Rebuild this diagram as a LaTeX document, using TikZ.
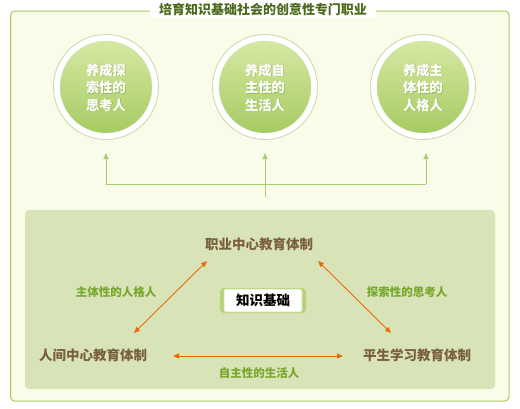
\documentclass[tikz,border=0pt]{standalone}
\usepackage{fontspec}
\setmainfont{Noto Sans CJK SC}
\usetikzlibrary{arrows.meta}
\definecolor{outerfill}{HTML}{F8FCE9}
\definecolor{outerline}{HTML}{A9CB62}
\definecolor{innerfill}{HTML}{D8E4B8}
\definecolor{titlecol}{HTML}{4B6A1E}
\definecolor{brown}{HTML}{7A5E3E}
\definecolor{lblgreen}{HTML}{78A82E}
\definecolor{orangec}{HTML}{EC6A0C}
\definecolor{ringline}{HTML}{C9D9A8}
\definecolor{gtop}{HTML}{D6E8A2}
\definecolor{gbot}{HTML}{A6CB62}
\definecolor{vline}{HTML}{A9CD74}
\definecolor{shadowc}{HTML}{7F9E4A}
\begin{document}
\begin{tikzpicture}[x=1pt,y=-1pt,
  ring/.style={circle,draw=ringline,line width=0.8pt,fill=white,minimum size=105pt,inner sep=0pt},
  ball/.style={circle,minimum size=92pt,inner sep=0pt,top color=gtop,bottom color=gbot,draw=gbot!90!black!40,line width=0.3pt},
  balltext/.style={text=white,font=\fontsize{13.3}{17.5}\selectfont\bfseries,align=center,inner sep=0pt},
  shadowtext/.style={text=shadowc,text opacity=0.55,font=\fontsize{13.3}{17.5}\selectfont\bfseries,align=center,inner sep=0pt},
  sysnode/.style={text=brown,font=\fontsize{13.5}{16}\selectfont\bfseries,inner sep=1pt},
  lbl/.style={text=lblgreen,font=\fontsize{11.5}{14}\selectfont\bfseries,inner sep=1pt},
  uparrow/.style={draw=vline,line width=1pt,-{Triangle[length=6pt,width=5pt]}},
  twoway/.style={draw=orangec,line width=0.9pt,{Triangle[length=6pt,width=5pt]}-{Triangle[length=6pt,width=5pt]}}
]
\useasboundingbox (0,0) rectangle (520,408);
% outer frame
\draw[outerline,line width=1pt,fill=outerfill,rounded corners=4pt] (10.5,11) rectangle (509,401);
\node[fill=white,text=titlecol,font=\fontsize{13}{15}\selectfont\bfseries,inner xsep=9pt,inner ysep=2pt] (title) at (263,10) {培育知识基础社会的创意性专门职业};
% circles
\foreach \n/\x/\t in {c1/106/{养成探\\索性的\\思考人},c2/265/{养成自\\主性的\\生活人},c3/423/{养成主\\体性的\\人格人}}{
  \node[ring] (\n r) at (\x,87) {};
  \node[ball] (\n) at (\x,87) {};
  \node[shadowtext] (\n s) at (\x+0.8,88.2) {\t};
  \node[balltext] (\n t) at (\x,87.5) {\t};
}
% connectors to circles
\coordinate (hub) at (265,197);
\coordinate (jl) at (106,184);
\coordinate (jr) at (426,184);
\draw[vline,line width=1pt] (jl) -- (jr);
\draw[uparrow] (jl) -- (106,153);
\draw[uparrow] (hub) -- (265,153);
\draw[uparrow] (jr) -- (426,153);
% inner panel
\fill[innerfill,rounded corners=4pt] (25,210) rectangle (495,389);
% system nodes
\node[sysnode] (top) at (259,244) {职业中心教育体制};
\node[sysnode] (left) at (93,355) {人间中心教育体制};
\node[sysnode] (right) at (417,355) {平生学习教育体制};
% arrows
\coordinate (l1) at (134,333); \coordinate (l2) at (207,261);
\coordinate (r1) at (318,261); \coordinate (r2) at (391,333);
\coordinate (b1) at (173,356); \coordinate (b2) at (343,356);
\draw[twoway] (l1) -- (l2);
\draw[twoway] (r1) -- (r2);
\draw[twoway] (b1) -- (b2);
% labels
\node[lbl] (la) at (116,292) {主体性的人格人};
\node[lbl] (lb) at (407,292) {探索性的思考人};
\node[lbl] (lc) at (259,373) {自主性的生活人};
% center box
\fill[outerline!85,rounded corners=4pt] (220,288) rectangle (306,313);
\node[draw=outerline!60,line width=0.6pt,fill=white,rounded corners=2pt,minimum width=78pt,minimum height=23pt,inner sep=0pt,
  font=\fontsize{13.5}{16}\selectfont\bfseries] (kb) at (263,300.5) {知识基础};
\end{tikzpicture}
\end{document}
